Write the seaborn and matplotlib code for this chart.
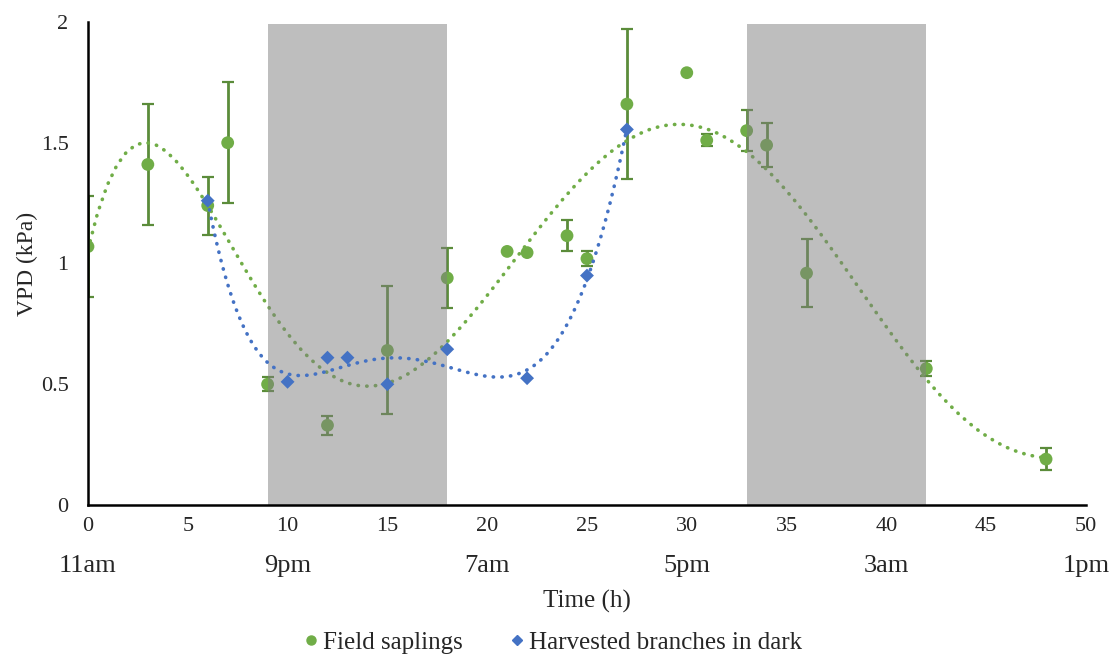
"""VPD of field saplings vs harvested branches over two days
"""

import matplotlib
matplotlib.use("Agg")
import matplotlib.pyplot as plt
import seaborn as sns
import pandas as pd
import numpy as np

sns.set_style("white")
plt.rcParams["font.family"] = ["Liberation Serif", "DejaVu Serif"]

# Field saplings : time (h), VPD (kPa), error
field_t = [0, 3, 6, 7, 9, 12, 15, 18, 21, 22, 24, 25, 27, 30, 31, 33, 34, 36, 42, 48]
field_vpd = [1.07, 1.41, 1.24, 1.50, 0.50, 0.33, 0.64, 0.94, 1.05, 1.045, 1.115, 1.02,
             1.66, 1.79, 1.51, 1.55, 1.49, 0.96, 0.565, 0.19]
field_err = [0.21, 0.25, 0.12, 0.25, 0.03, 0.04, 0.265, 0.125, 0.0, 0.0, 0.065, 0.03,
             0.31, 0.0, 0.025, 0.085, 0.09, 0.14, 0.03, 0.045]

# Harvested branches kept in the dark
dark_t = [6, 10, 12, 13, 15, 18, 22, 25, 27]
dark_vpd = [1.26, 0.51, 0.61, 0.61, 0.50, 0.645, 0.525, 0.95, 1.555]

# night periods (h)
nights = [(9, 18), (33, 42)]

clock_ticks = [0, 10, 20, 30, 40, 50]
clock_labels = ["11am", "9pm", "7am", "5pm", "3am", "1pm"]

green = "#70AD47"
green_err = "#5B8C3A"
blue = "#4472C4"

field = pd.DataFrame({"t": field_t, "vpd": field_vpd, "err": field_err})
dark = pd.DataFrame({"t": dark_t, "vpd": dark_vpd})

fig = plt.figure(figsize=(11.12, 6.56), dpi=100)
ax = fig.add_axes([0.0791, 0.2302, 0.8975, 0.7363])

dots = dict(linestyle=(0, (0.1, 2.3)), dash_capstyle="round", linewidth=2.6)

# field saplings + polynomial trend
ax.errorbar(field["t"], field["vpd"], yerr=field["err"], fmt="none",
            ecolor=green_err, elinewidth=2, capsize=4, capthick=1.6, zorder=2)
sns.regplot(data=field, x="t", y="vpd", order=6, ci=None, scatter=False, ax=ax,
            line_kws=dict(color=green, zorder=2, **dots))
sns.scatterplot(data=field, x="t", y="vpd", color=green, s=85, edgecolor="none",
                ax=ax, zorder=3, legend=False)

# night shading
for a, b in nights:
    ax.axvspan(a, b, ymax=0.995, color="#7F7F7F", alpha=0.5, lw=0, zorder=4)

# harvested branches + trend
sns.regplot(data=dark, x="t", y="vpd", order=5, ci=None, scatter=False, ax=ax,
            line_kws=dict(color=blue, zorder=5, **dots))
sns.scatterplot(data=dark, x="t", y="vpd", color=blue, marker="D", s=50,
                edgecolor="none", ax=ax, zorder=6, legend=False)

ax.set_xlim(0, 50)
ax.set_ylim(0, 2)
ax.set_xticks(np.arange(0, 51, 5))
ax.set_xticks(np.arange(0, 51, 1), minor=True)
ax.set_yticks([0, 0.5, 1, 1.5, 2])
ax.set_yticklabels(["0", "0.5", "1", "1.5", "2"])
ax.tick_params(axis="both", which="major", direction="in", length=8, width=1.5,
               labelsize=16, pad=9)
ax.tick_params(axis="x", which="minor", direction="in", length=5, width=1.2)
ax.tick_params(axis="y", pad=14)
for s in ["top", "right"]:
    ax.spines[s].set_visible(False)
for s in ["left", "bottom"]:
    ax.spines[s].set_color("black")
    ax.spines[s].set_linewidth(1.8)
    ax.spines[s].set_zorder(7)

# second row of labels: clock time
sec = ax.secondary_xaxis(-0.103)
sec.set_xticks(clock_ticks)
sec.set_xticklabels(clock_labels)
sec.tick_params(length=0, labelsize=19, pad=0)
sec.spines["bottom"].set_visible(False)

ax.set_xlabel("Time (h)", fontsize=18)
ax.xaxis.set_label_coords(0.5, -0.199)
ax.xaxis.label.set_va("center")
ax.set_ylabel("VPD (kPa)", fontsize=17)
ax.yaxis.set_label_coords(-0.061, 0.5)
ax.yaxis.label.set_va("center")

handles = [
    plt.Line2D([], [], marker="o", color=green, ls="none", markersize=6.5),
    plt.Line2D([], [], marker="D", color=blue, ls="none", markersize=5),
]
fig.legend(handles, ["Field saplings", "Harvested branches in dark"],
           loc="center", bbox_to_anchor=(0.497, 0.02), ncol=2, frameon=False,
           fontsize=18, handlelength=0.6, handletextpad=0.15, columnspacing=1.9)

fig.savefig("out.png", dpi=100)
